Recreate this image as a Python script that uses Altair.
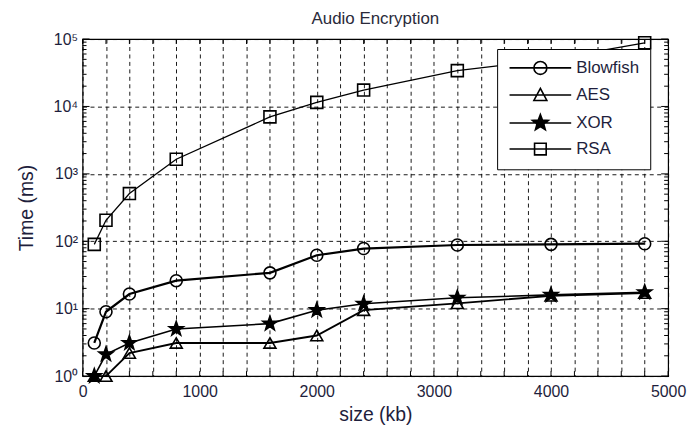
import math
import altair as alt
import pandas as pd

# ---------------- data ----------------
sizes = [100, 200, 400, 800, 1600, 2000, 2400, 3200, 4000, 4800]
blowfish = [3.1, 9.0, 16.5, 26, 34, 62, 78, 88, 90, 92]
aes = [1.0, 1.0, 2.2, 3.1, 3.1, 4.0, 9.5, 12, 15.5, 17]
xor = [1.0, 2.1, 3.1, 5.0, 6.0, 9.5, 11.8, 14.5, 16, 17.5]
rsa = [90, 205, 510, 1650, 7000, 11500, 17500, 34000, 50000, 88000]
series_names = ["Blowfish", "AES", "XOR", "RSA"]

x_label_values = [0, 1000, 2000, 3000, 4000, 5000]
x_grid_values = list(range(0, 5001, 200))
y_decades = [1, 10, 100, 1000, 10000, 100000]
y_minor = [m * 10 ** k for k in range(5) for m in range(2, 10)]

rows = []
for name, vals in zip(series_names, [blowfish, aes, xor, rsa]):
    for s, v in zip(sizes, vals):
        rows.append({"size": s, "time": v, "algo": name})
df = pd.DataFrame(rows)

xt = pd.DataFrame({"size": x_grid_values})
ymaj = pd.DataFrame({"time": y_decades})
ymin = pd.DataFrame({"time": y_minor})

# ---------------- styling ----------------
W, H = 589, 339
FONT = "Liberation Sans"
TXT = "#1e1e3c"


def star_path(cx=0.0, R=1.2, r=0.5):
    pts = []
    for i in range(10):
        ang = -math.pi / 2 + i * math.pi / 5
        rad = R if i % 2 == 0 else r
        pts.append((cx + rad * math.cos(ang), rad * math.sin(ang)))
    return "M" + "L".join(f"{x:.3f},{y:.3f}" for x, y in pts) + "Z"


plot_shapes = ["circle", "triangle-up", star_path(0, 1.25, 0.5), "square"]
fills = ["transparent", "transparent", "black", "transparent"]
widths = [2.2, 1.3, 2.4, 1.3]

cx = 3.77
line_seg = "M-1,0H8.54 "
filled_star = " ".join(star_path(cx, R, R * 0.42) for R in [1.3, 1.08, 0.86, 0.64, 0.42, 0.2])
legend_shapes = [
    line_seg + f"M{cx+1},0A1,1 0 1,1 {cx-1},0A1,1 0 1,1 {cx+1},0Z",
    line_seg + f"M{cx},-1L{cx+1},0.85L{cx-1},0.85Z",
    line_seg + filled_star,
    line_seg + f"M{cx-0.9},-0.9H{cx+0.9}V0.9H{cx-0.9}Z",
]

xscale = alt.Scale(domain=[0, 5000], nice=False)
yscale = alt.Scale(type="log", domain=[1, 100000], nice=False)

x_axis = alt.Axis(values=x_grid_values, title="size (kb)",
                  labelExpr="datum.value % 1000 === 0 ? datum.label : ''",
                  format="d")
y_axis = alt.Axis(values=y_decades, title="Time (ms)",
                  labelExpr="'10' + ['\u2070','\u00b9','\u00b2','\u00b3','\u2074','\u2075'][round(log(datum.value)/LN10)]")


def X():
    return alt.X("size:Q", scale=xscale, axis=x_axis)


def Y():
    return alt.Y("time:Q", scale=yscale, axis=y_axis)


base = alt.Chart(df)

lines = base.mark_line(color="black").encode(
    x=X(), y=Y(),
    detail="algo:N",
    strokeWidth=alt.StrokeWidth("algo:N", scale=alt.Scale(domain=series_names, range=widths), legend=None),
)

points = base.mark_point(size=145, strokeWidth=1.6, filled=False, opacity=1).encode(
    x=X(), y=Y(),
    shape=alt.Shape("algo:N", scale=alt.Scale(domain=series_names, range=plot_shapes), legend=None),
    fill=alt.Fill("algo:N", scale=alt.Scale(domain=series_names, range=fills), legend=None),
    stroke=alt.value("black"),
)

legend_layer = base.transform_filter("datum.size < 0").mark_point(
    filled=False, stroke="black", color="black", strokeWidth=1.6, opacity=1
).encode(
    x=X(), y=Y(),
    shape=alt.Shape("algo:N", scale=alt.Scale(domain=series_names, range=legend_shapes), title=None,
                    legend=alt.Legend(orient="none", legendX=417, legendY=10)),
)

# inward ticks (box style)
xt_bot = alt.Chart(xt).mark_rule(color="black").encode(x=X(), y=alt.value(H), y2=alt.value(H - 5))
xt_top = alt.Chart(xt).mark_rule(color="black").encode(x=X(), y=alt.value(0), y2=alt.value(5))
ymin_l = alt.Chart(ymin).mark_rule(color="black").encode(y=Y(), x=alt.value(0), x2=alt.value(4))
ymin_r = alt.Chart(ymin).mark_rule(color="black").encode(y=Y(), x=alt.value(W - 4), x2=alt.value(W))
ymaj_l = alt.Chart(ymaj).mark_rule(color="black").encode(y=Y(), x=alt.value(0), x2=alt.value(7))
ymaj_r = alt.Chart(ymaj).mark_rule(color="black").encode(y=Y(), x=alt.value(W - 7), x2=alt.value(W))

chart = alt.layer(
    lines, xt_bot, xt_top, ymin_l, ymin_r, ymaj_l, ymaj_r, points, legend_layer
).resolve_scale(
    shape="independent"
).properties(
    width=W, height=H,
    autosize=alt.AutoSizeParams(type="none"),
    padding={"left": 75, "top": 30, "right": 20, "bottom": 54},
    title=alt.TitleParams("Audio Encryption", font=FONT, fontSize=17, fontWeight="normal",
                          color="#2a2a3a", offset=3, anchor="middle"),
).configure_view(
    stroke="black", strokeWidth=1.2
).configure_axis(
    labelFont=FONT, labelFontSize=16, labelColor=TXT,
    titleFont=FONT, titleFontSize=19.5, titleFontWeight="normal", titleColor=TXT,
    ticks=False, domain=False,
    grid=True, gridColor="black", gridOpacity=0.9, gridDash=[4, 3.5], gridWidth=1,
).configure_axisX(
    labelPadding=8, titlePadding=6, labelFlush=False,
).configure_axisY(
    labelPadding=5, titlePadding=17,
).configure_legend(
    labelFont=FONT, labelFontSize=17, labelColor=TXT,
    symbolSize=169, labelOffset=52, padding=10.5, rowPadding=6.2,
    fillColor="white", strokeColor="black", symbolStrokeWidth=1.6,
)

chart.save("out.html", embed_options={"renderer": "svg", "actions": False})
